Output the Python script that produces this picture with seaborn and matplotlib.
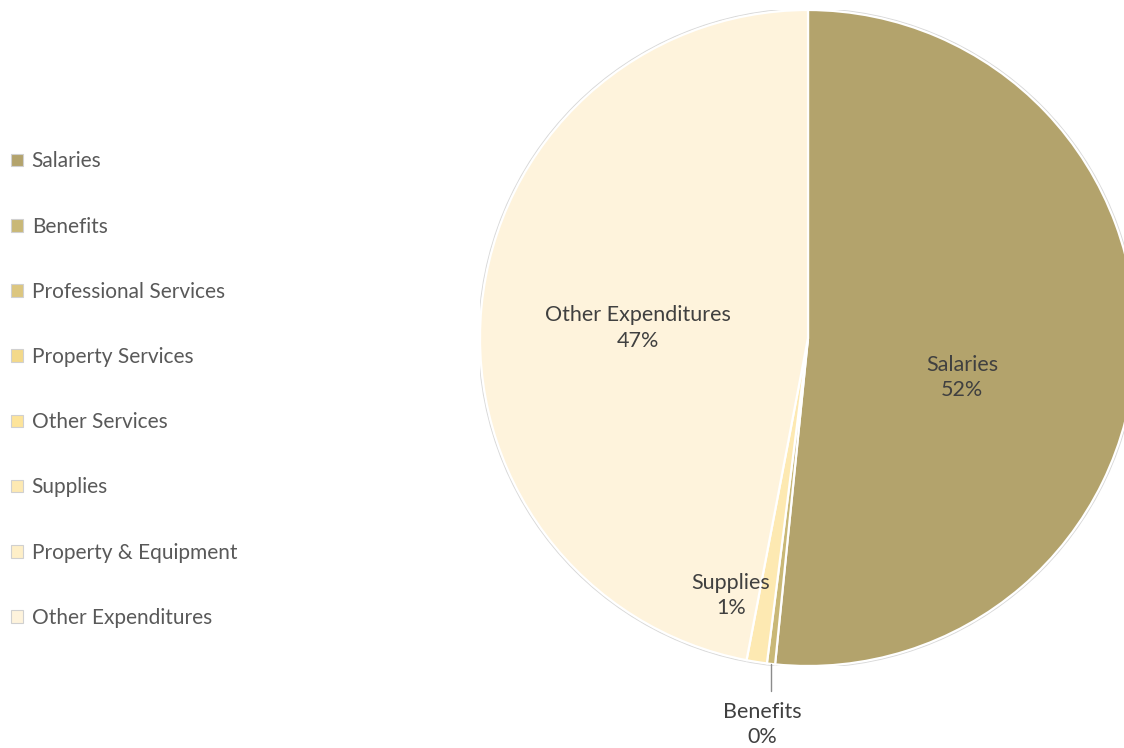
import matplotlib
matplotlib.use("Agg")
import matplotlib.pyplot as plt
from matplotlib.patches import Patch, Circle
import numpy as np
import seaborn as sns

# Expenditure categories and their share of the total (%)
categories = ["Salaries", "Benefits", "Professional Services", "Property Services",
              "Other Services", "Supplies", "Property & Equipment", "Other Expenditures"]
shares = [51.6, 0.4, 0.0, 0.0, 0.0, 1.0, 0.0, 47.0]
colors = ["#b3a36c", "#c9b877", "#dcc67f", "#f3d98a",
          "#fde49a", "#fde9b2", "#feefc8", "#fef3dc"]

sns.set_theme(style="white")
plt.rcParams["font.family"] = ["Lato", "DejaVu Sans"]

W, H = 1124, 748
fig = plt.figure(figsize=(W / 100, H / 100), dpi=100)

# Pie axes: centre (808, 338) px, radius 328 px
cx, cy, r = 808, 338, 328
ax = fig.add_axes([(cx - r) / W, (H - cy - r) / H, 2 * r / W, 2 * r / H])

palette = sns.color_palette(colors)
idx = [i for i, v in enumerate(shares) if v > 0]
vals = [shares[i] for i in idx]
cols = [palette[i] for i in idx]

wedges, _ = ax.pie(vals, colors=cols, startangle=90, counterclock=False, radius=1,
                   wedgeprops=dict(edgecolor="white", linewidth=1.6))
# faint outline around the pie
ax.add_patch(Circle((0, 0), 1.004, facecolor="none", edgecolor="#d9d9d9", lw=1.0, zorder=0))
ax.set_xlim(-1, 1)
ax.set_ylim(-1, 1)
ax.set_aspect("equal")
ax.axis("off")

label_color = "#404040"
total = sum(shares)

def pct(v):
    return f"{round(v / total * 100):.0f}%"

# in-slice labels
inside = {"Salaries": (0.47, -0.12), "Other Expenditures": (-0.52, 0.03), "Supplies": (-0.235, -0.785)}
for name, (x, y) in inside.items():
    v = shares[categories.index(name)]
    ax.text(x, y, f"{name}\n{pct(v)}", ha="center", va="center", fontsize=15.5,
            color=label_color, linespacing=1.35)

# Benefits label with leader line below the pie
bi = idx.index(categories.index("Benefits"))
w = wedges[bi]
mid = np.deg2rad((w.theta1 + w.theta2) / 2)
lx = np.cos(mid)
ax.plot([lx, lx], [np.sin(mid), -1.075], color="#8c8c8c", lw=1.0, clip_on=False)
ax.text(-0.14, -1.178, f"Benefits\n{pct(shares[categories.index('Benefits')])}",
        ha="center", va="center", fontsize=15.5, color=label_color, linespacing=1.3,
        clip_on=False)

# Legend on the left
handles = [Patch(facecolor=c, edgecolor="#d0d0d0", linewidth=0.8) for c in palette]
leg = fig.legend(handles, categories, loc="upper left", bbox_to_anchor=(0.0, 1 - 140 / H),
                 frameon=False, fontsize=15, labelcolor="#595959",
                 handlelength=0.55, handleheight=0.55, handletextpad=0.42,
                 labelspacing=2.17, borderaxespad=0, borderpad=0.55)

fig.savefig("out.png", dpi=100, facecolor="white")
